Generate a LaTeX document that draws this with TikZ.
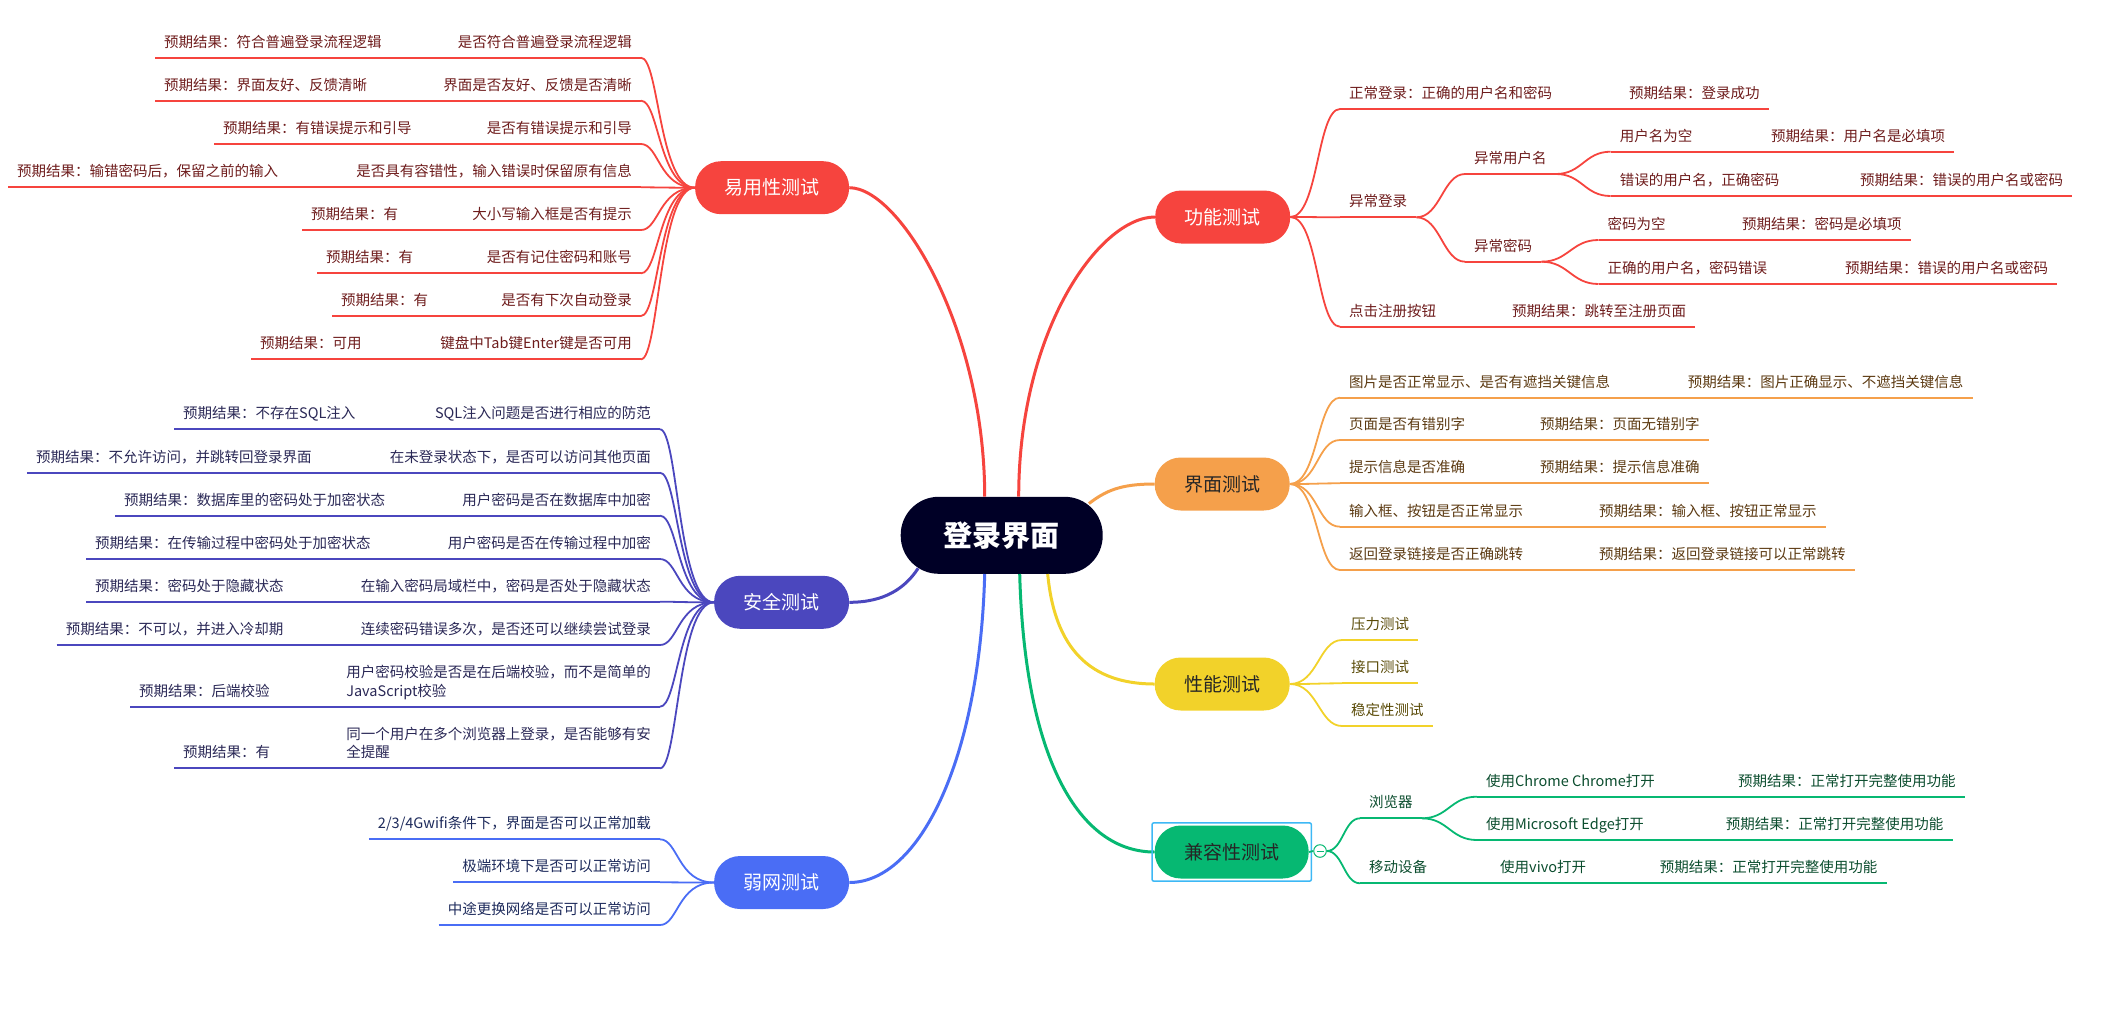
\documentclass[tikz,border=0pt]{standalone}
\usepackage{fontspec}
\setmainfont{Noto Sans CJK SC}
\usepackage{xcolor}
\usetikzlibrary{calc,fit}
\definecolor{rootcolor}{HTML}{000026}
\definecolor{redline}{HTML}{F6443E}
\definecolor{redtext}{HTML}{6E1C1C}
\definecolor{orangeline}{HTML}{F5A04B}
\definecolor{orangetext}{HTML}{5C3A12}
\definecolor{yellowline}{HTML}{F2D22A}
\definecolor{yellowtext}{HTML}{5A4B08}
\definecolor{greenline}{HTML}{06B872}
\definecolor{greentext}{HTML}{0B4D2E}
\definecolor{indigoline}{HTML}{4B47BE}
\definecolor{indigotext}{HTML}{2A2856}
\definecolor{blueline}{HTML}{4A6DF5}
\definecolor{bluetext}{HTML}{1E2B5C}
\definecolor{selcolor}{HTML}{3DB8F5}

\begin{document}
\begin{tikzpicture}[x=1pt, y=-1pt,
    leaf/.style={inner xsep=9pt, inner ysep=0pt, align=left,
        font=\fontsize{14.5}{18.3}\selectfont,
        execute at end node={\rule[-10.5pt]{0pt}{10.5pt}}},
    topic/.style={rounded corners=26pt, minimum height=53pt, inner xsep=29.5pt, inner ysep=0pt,
        text height=16.7pt, text depth=2.3pt, font=\fontsize{19}{22}\selectfont},
    rootnode/.style={rounded corners=38pt, minimum height=77pt, inner xsep=43pt, inner ysep=0pt,
        fill=rootcolor, text=white, text height=25.5pt, text depth=3.5pt,
        font=\fontsize{29}{34}\selectfont\bfseries},
    mainline/.style={line width=3pt},
    leafline/.style={line width=1.8pt}]
    \useasboundingbox (0,0) rectangle (2103,1031);

    % Root and main topics
    \node[rootnode] (root) at (1001.7,535.3) {登录界面};
    \node[topic, fill=redline, text=white, anchor=east] (usab) at (849.3,187.7) {易用性测试};
    \node[topic, fill=indigoline, text=white, anchor=east] (secu) at (849.3,602.3) {安全测试};
    \node[topic, fill=blueline, text=white, anchor=east] (weak) at (849.3,882.5) {弱网测试};
    \node[topic, fill=redline, text=white, anchor=west] (func) at (1155,217) {功能测试};
    \node[topic, fill=orangeline, text=black!85, anchor=west] (ui) at (1154.5,484) {界面测试};
    \node[topic, fill=yellowline, text=black!85, anchor=west] (perf) at (1154.5,684) {性能测试};
    \node[topic, fill=greenline, text=black!85, anchor=west] (comp) at (1154.5,852) {兼容性测试};

    \draw[mainline, redline] ($(root.north)+(-17,0)$) .. controls +(0,-167) and +(51,0) .. (usab.east);
    \draw[mainline, redline] ($(root.north)+(17,0)$) .. controls +(0,-167) and +(-55,0) .. (func.west);
    \draw[mainline, orangeline] ($(root.north east)+(-14,7)$) .. controls +(17,-13) and +(-34,0) .. (ui.west);
    \draw[mainline, yellowline] ($(root.south)+(46,0)$) .. controls +(7,75) and +(-64,0) .. (perf.west);
    \draw[mainline, greenline] ($(root.south)+(18,0)$) .. controls +(5,186) and +(-75,0) .. (comp.west);
    \draw[mainline, blueline] ($(root.south)+(-17,0)$) .. controls +(-5,186) and +(70,0) .. (weak.east);
    \draw[mainline, indigoline] ($(root.south west)+(17.6,-5.7)$) .. controls +(-13,20) and +(35,0) .. (secu.east);

    % Usability
    \node[leaf, text=redtext, anchor=south east] (u1) at (641,57.7) {是否符合普遍登录流程逻辑};
    \node[leaf, text=redtext, anchor=south west] (u1r) at (155,57.7) {预期结果：符合普遍登录流程逻辑};
    \node[leaf, text=redtext, anchor=south east] (u2) at (641,100.7) {界面是否友好、反馈是否清晰};
    \node[leaf, text=redtext, anchor=south west] (u2r) at (155,100.7) {预期结果：界面友好、反馈清晰};
    \node[leaf, text=redtext, anchor=south east] (u3) at (641,144) {是否有错误提示和引导};
    \node[leaf, text=redtext, anchor=south west] (u3r) at (214,144) {预期结果：有错误提示和引导};
    \node[leaf, text=redtext, anchor=south east] (u4) at (641,187.3) {是否具有容错性，输入错误时保留原有信息};
    \node[leaf, text=redtext, anchor=south west] (u4r) at (8,187.3) {预期结果：输错密码后，保留之前的输入};
    \node[leaf, text=redtext, anchor=south east] (u5) at (641,230) {大小写输入框是否有提示};
    \node[leaf, text=redtext, anchor=south west] (u5r) at (302,230) {预期结果：有};
    \node[leaf, text=redtext, anchor=south east] (u6) at (641,273.3) {是否有记住密码和账号};
    \node[leaf, text=redtext, anchor=south west] (u6r) at (317,273.3) {预期结果：有};
    \node[leaf, text=redtext, anchor=south east] (u7) at (641,316) {是否有下次自动登录};
    \node[leaf, text=redtext, anchor=south west] (u7r) at (332,316) {预期结果：有};
    \node[leaf, text=redtext, anchor=south east] (u8) at (641,359.3) {键盘中Tab键Enter键是否可用};
    \node[leaf, text=redtext, anchor=south west] (u8r) at (251,359.3) {预期结果：可用};
    \foreach \n in {1,...,8} {
        \draw[leafline, redline] (u\n r.south west) -- (u\n.south east);
        \draw[leafline, redline] (usab.west) .. controls +(-36,0) and +(18,0) .. (u\n.south east);
    }

    % Security
    \node[leaf, text=indigotext, anchor=south east] (s1) at (660,429.3) {SQL注入问题是否进行相应的防范};
    \node[leaf, text=indigotext, anchor=south west] (s1r) at (174,429.3) {预期结果：不存在SQL注入};
    \node[leaf, text=indigotext, anchor=south east] (s2) at (660,472.7) {在未登录状态下，是否可以访问其他页面};
    \node[leaf, text=indigotext, anchor=south west] (s2r) at (26.8,472.7) {预期结果：不允许访问，并跳转回登录界面};
    \node[leaf, text=indigotext, anchor=south east] (s3) at (660,515.7) {用户密码是否在数据库中加密};
    \node[leaf, text=indigotext, anchor=south west] (s3r) at (115,515.7) {预期结果：数据库里的密码处于加密状态};
    \node[leaf, text=indigotext, anchor=south east] (s4) at (660,559) {用户密码是否在传输过程中加密};
    \node[leaf, text=indigotext, anchor=south west] (s4r) at (86,559) {预期结果：在传输过程中密码处于加密状态};
    \node[leaf, text=indigotext, anchor=south east] (s5) at (660,601.7) {在输入密码局域栏中，密码是否处于隐藏状态};
    \node[leaf, text=indigotext, anchor=south west] (s5r) at (86,601.7) {预期结果：密码处于隐藏状态};
    \node[leaf, text=indigotext, anchor=south east] (s6) at (660,645) {连续密码错误多次，是否还可以继续尝试登录};
    \node[leaf, text=indigotext, anchor=south west] (s6r) at (56.7,645) {预期结果：不可以，并进入冷却期};
    \node[leaf, text=indigotext, anchor=south east] (s7) at (660,706.7) {用户密码校验是否是在后端校验，而不是简单的\\JavaScript校验};
    \node[leaf, text=indigotext, anchor=south west] (s7r) at (130,706.7) {预期结果：后端校验};
    \node[leaf, text=indigotext, anchor=south east] (s8) at (660,768.3) {同一个用户在多个浏览器上登录，是否能够有安\\全提醒};
    \node[leaf, text=indigotext, anchor=south west] (s8r) at (174,768.3) {预期结果：有};
    \foreach \n in {1,...,8} {
        \draw[leafline, indigoline] (s\n r.south west) -- (s\n.south east);
        \draw[leafline, indigoline] (secu.west) .. controls +(-36,0) and +(18,0) .. (s\n.south east);
    }

    % Weak network
    \node[leaf, text=bluetext, anchor=south east] (w1) at (660,839.3) {2/3/4Gwifi条件下，界面是否可以正常加载};
    \node[leaf, text=bluetext, anchor=south east] (w2) at (660,882.3) {极端环境下是否可以正常访问};
    \node[leaf, text=bluetext, anchor=south east] (w3) at (660,925) {中途更换网络是否可以正常访问};
    \foreach \n in {1,2,3} {
        \draw[leafline, blueline] (w\n.south west) -- (w\n.south east);
        \draw[leafline, blueline] (weak.west) .. controls +(-36,0) and +(18,0) .. (w\n.south east);
    }

    % Function
    \node[leaf, text=redtext, anchor=south west] (f1) at (1340,109) {正常登录：正确的用户名和密码};
    \node[leaf, text=redtext, anchor=south west] (f1r) at (1619.8,109) {预期结果：登录成功};
    \node[leaf, text=redtext, anchor=south west] (f2) at (1340,217.3) {异常登录};
    \node[leaf, text=redtext, anchor=south west] (f21) at (1465,174) {异常用户名};
    \node[leaf, text=redtext, anchor=south west] (f211) at (1610.6,151.7) {用户名为空};
    \node[leaf, text=redtext, anchor=south west] (f211r) at (1762,151.7) {预期结果：用户名是必填项};
    \node[leaf, text=redtext, anchor=south west] (f212) at (1610.6,196) {错误的用户名，正确密码};
    \node[leaf, text=redtext, anchor=south west] (f212r) at (1851,196) {预期结果：错误的用户名或密码};
    \node[leaf, text=redtext, anchor=south west] (f22) at (1465,261.7) {异常密码};
    \node[leaf, text=redtext, anchor=south west] (f221) at (1598.5,240) {密码为空};
    \node[leaf, text=redtext, anchor=south west] (f221r) at (1733,240) {预期结果：密码是必填项};
    \node[leaf, text=redtext, anchor=south west] (f222) at (1598.5,284) {正确的用户名，密码错误};
    \node[leaf, text=redtext, anchor=south west] (f222r) at (1836,284) {预期结果：错误的用户名或密码};
    \node[leaf, text=redtext, anchor=south west] (f3) at (1340,326.7) {点击注册按钮};
    \node[leaf, text=redtext, anchor=south west] (f3r) at (1503,326.7) {预期结果：跳转至注册页面};
    \foreach \a/\b in {f1/f1r, f2/f2, f21/f21, f22/f22, f211/f211r, f212/f212r, f221/f221r, f222/f222r, f3/f3r}
        \draw[leafline, redline] (\a.south west) -- (\b.south east);
    \foreach \n in {f1,f2,f3}
        \draw[leafline, redline] (func.east) .. controls +(28,0) and +(-23,0) .. (\n.south west);
    \foreach \n in {f21,f22}
        \draw[leafline, redline] (f2.south east) .. controls +(24,0) and +(-22,0) .. (\n.south west);
    \foreach \n in {f211,f212}
        \draw[leafline, redline] (f21.south east) .. controls +(26,0) and +(-26,0) .. (\n.south west);
    \foreach \n in {f221,f222}
        \draw[leafline, redline] (f22.south east) .. controls +(27,0) and +(-27,0) .. (\n.south west);

    % Interface
    \node[leaf, text=orangetext, anchor=south west] (i1) at (1340,397.7) {图片是否正常显示、是否有遮挡关键信息};
    \node[leaf, text=orangetext, anchor=south west] (i1r) at (1678.7,397.7) {预期结果：图片正确显示、不遮挡关键信息};
    \node[leaf, text=orangetext, anchor=south west] (i2) at (1340,440) {页面是否有错别字};
    \node[leaf, text=orangetext, anchor=south west] (i2r) at (1531,440) {预期结果：页面无错别字};
    \node[leaf, text=orangetext, anchor=south west] (i3) at (1340,483.3) {提示信息是否准确};
    \node[leaf, text=orangetext, anchor=south west] (i3r) at (1531,483.3) {预期结果：提示信息准确};
    \node[leaf, text=orangetext, anchor=south west] (i4) at (1340,526.7) {输入框、按钮是否正常显示};
    \node[leaf, text=orangetext, anchor=south west] (i4r) at (1589.8,526.7) {预期结果：输入框、按钮正常显示};
    \node[leaf, text=orangetext, anchor=south west] (i5) at (1340,570) {返回登录链接是否正确跳转};
    \node[leaf, text=orangetext, anchor=south west] (i5r) at (1589.8,570) {预期结果：返回登录链接可以正常跳转};
    \foreach \n in {1,...,5} {
        \draw[leafline, orangeline] (i\n.south west) -- (i\n r.south east);
        \draw[leafline, orangeline] (ui.east) .. controls +(28,0) and +(-23,0) .. (i\n.south west);
    }

    % Performance
    \node[leaf, text=yellowtext, anchor=south west] (p1) at (1342,640) {压力测试};
    \node[leaf, text=yellowtext, anchor=south west] (p2) at (1342,683.3) {接口测试};
    \node[leaf, text=yellowtext, anchor=south west] (p3) at (1342,726) {稳定性测试};
    \foreach \n in {1,2,3} {
        \draw[leafline, yellowline] (p\n.south west) -- (p\n.south east);
        \draw[leafline, yellowline] (perf.east) .. controls +(28,0) and +(-23,0) .. (p\n.south west);
    }

    % Compatibility
    \node[draw=selcolor, line width=1.5pt, rounded corners=2pt, inner sep=2.5pt, fit=(comp)] (compsel) {};
    \node[circle, draw=greenline, fill=white, line width=1pt, minimum size=12.6pt, inner sep=0pt] (cc) at (1320,851) {};
    \draw[greenline, line width=1pt] ($(cc.center)+(-3.5,0)$) -- ($(cc.center)+(3.5,0)$);
    \draw[leafline, greenline] (comp.east) -- (cc.west);
    \node[leaf, text=greentext, anchor=south west] (c1) at (1360,818.3) {浏览器};
    \node[leaf, text=greentext, anchor=south west] (c11) at (1476.8,796.7) {使用Chrome Chrome打开};
    \node[leaf, text=greentext, anchor=south west] (c11r) at (1729,796.7) {预期结果：正常打开完整使用功能};
    \node[leaf, text=greentext, anchor=south west] (c12) at (1476.8,840) {使用Microsoft Edge打开};
    \node[leaf, text=greentext, anchor=south west] (c12r) at (1716.7,840) {预期结果：正常打开完整使用功能};
    \node[leaf, text=greentext, anchor=south west] (c2) at (1360,883.3) {移动设备};
    \node[leaf, text=greentext, anchor=south west] (c21) at (1491,883.3) {使用vivo打开};
    \node[leaf, text=greentext, anchor=south west] (c21r) at (1650.7,883.3) {预期结果：正常打开完整使用功能};
    \foreach \a/\b in {c1/c1, c11/c11r, c12/c12r, c2/c21r}
        \draw[leafline, greenline] (\a.south west) -- (\b.south east);
    \foreach \n in {c1,c2}
        \draw[leafline, greenline] (cc.east) .. controls +(16,0) and +(-16,0) .. (\n.south west);
    \foreach \n in {c11,c12}
        \draw[leafline, greenline] (c1.south east) .. controls +(26,0) and +(-26,0) .. (\n.south west);
\end{tikzpicture}
\end{document}
